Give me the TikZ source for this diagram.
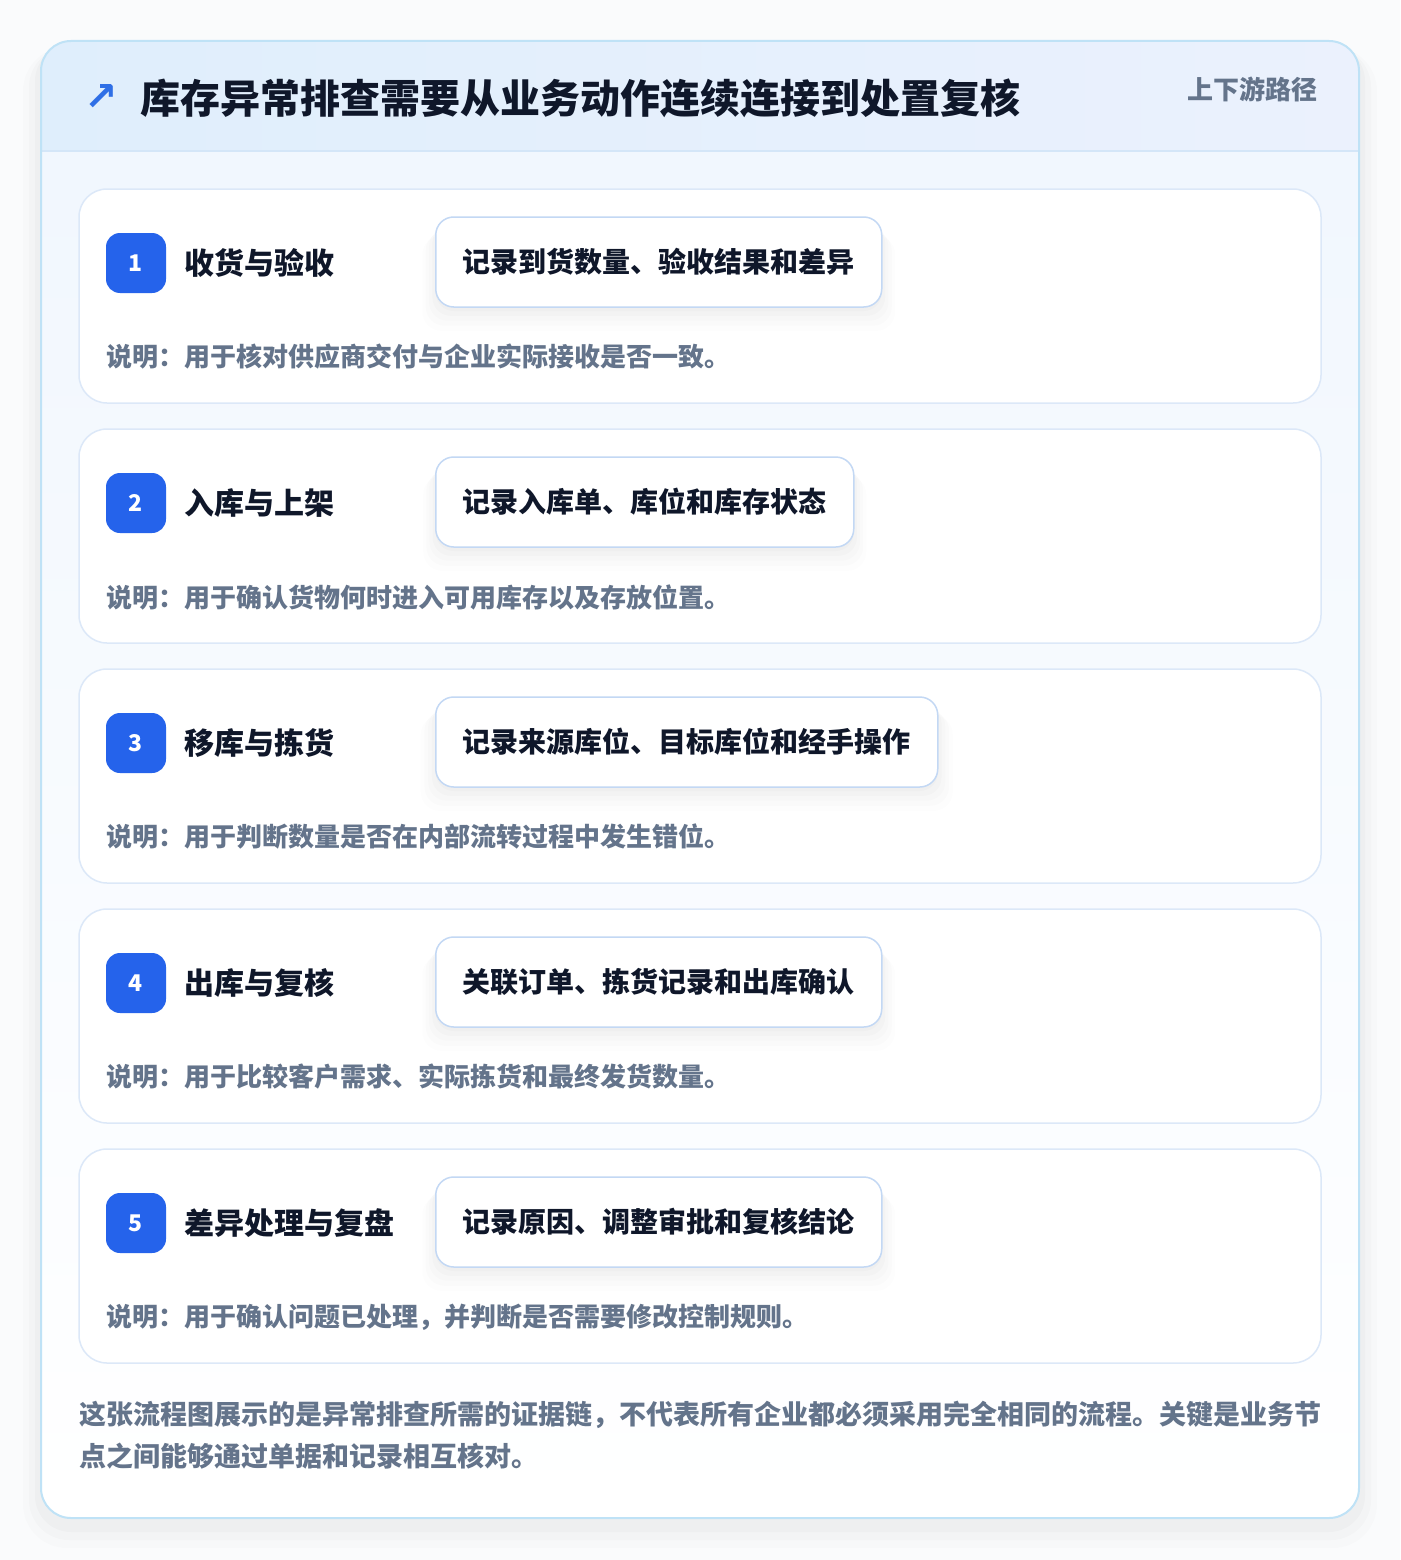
\documentclass[tikz,border=0pt]{standalone}
\usepackage{fontspec}
\setmainfont{Noto Sans CJK SC}
\newfontfamily\symfont{DejaVu Sans}
\usetikzlibrary{shadows}

\definecolor{inkdark}{HTML}{0F172A}
\definecolor{inkgray}{HTML}{64748B}
\definecolor{badgeblue}{HTML}{2563EB}
\definecolor{iconblue}{HTML}{2F6FE6}
\definecolor{outerline}{HTML}{BFE2F6}
\definecolor{cardline}{HTML}{DCE8F8}
\definecolor{recline}{HTML}{C3D8F4}
\definecolor{headleft}{HTML}{DFEEFC}
\definecolor{headright}{HTML}{EBF1FD}
\definecolor{headrule}{HTML}{D4E6F8}
\definecolor{bodytop}{HTML}{F1F7FE}
\definecolor{pagebg}{HTML}{FAFBFC}

\begin{document}
\begin{tikzpicture}[x=1pt,y=-1pt,
    stepcard/.style={draw=cardline,line width=1.5pt,fill=white,rounded corners=28pt},
    badge/.style={fill=badgeblue,rounded corners=14pt,minimum size=60pt,inner sep=0,
      text=white,font=\fontsize{23pt}{23pt}\selectfont\bfseries},
    steptitle/.style={anchor=west,inner sep=0,text=inkdark,font=\fontsize{30pt}{30pt}\selectfont\bfseries},
    recbox/.style={anchor=west,draw=recline,line width=1.5pt,fill=white,rounded corners=18pt,
      minimum height=90pt,inner xsep=27pt,inner ysep=0,text=inkdark,
      font=\fontsize{28pt}{28pt}\selectfont\bfseries,
      drop shadow={opacity=0.008,shadow xshift=0pt,shadow yshift=-20pt,shadow scale=1.06,fill=black},
      drop shadow={opacity=0.01,shadow xshift=0pt,shadow yshift=-16pt,shadow scale=1.045,fill=black},
      drop shadow={opacity=0.012,shadow xshift=0pt,shadow yshift=-12pt,shadow scale=1.03,fill=black},
      drop shadow={opacity=0.014,shadow xshift=0pt,shadow yshift=-8pt,shadow scale=1.015,fill=black},
      drop shadow={opacity=0.016,shadow xshift=0pt,shadow yshift=-4pt,fill=black}},
    note/.style={anchor=west,inner sep=0,text=inkgray,font=\fontsize{26pt}{26pt}\selectfont\bfseries},
    footnote/.style={anchor=west,inner sep=0,text=inkgray,font=\fontsize{27pt}{27pt}\selectfont\bfseries}]
    \useasboundingbox (0,0) rectangle (1400,1560);
    \fill[pagebg] (0,0) rectangle (1400,1560);

    % soft shadow of the outer card
    \fill[black,opacity=0.012,rounded corners=44pt] (23,47) rectangle (1377,1548);
    \fill[black,opacity=0.015,rounded corners=40pt] (29,47) rectangle (1371,1540);
    \fill[black,opacity=0.02,rounded corners=36pt] (35,45) rectangle (1365,1532);

    \begin{scope}
      \clip[rounded corners=30pt] (41,41) rectangle (1359,1518);
      \shade[left color=headleft,right color=headright] (41,41) rectangle (1359,151);
      \shade[top color=bodytop,bottom color=white] (41,151) rectangle (1359,1518);
    \end{scope}
    \draw[headrule,line width=1.5pt] (41,151) -- (1359,151);
    \draw[outerline,line width=2pt,rounded corners=30pt] (41,41) rectangle (1359,1518);

    \node[inner sep=0,text=iconblue,font=\fontsize{40pt}{40pt}\selectfont] (icon) at (101,98) {\symfont\bfseries ↗};
    \node[anchor=west,inner sep=0,text=inkdark,font=\fontsize{40pt}{40pt}\selectfont\bfseries] (title) at (140,98)
      {库存异常排查需要从业务动作连续连接到处置复核};
    \node[anchor=east,inner sep=0,text=inkgray,font=\fontsize{26pt}{26pt}\selectfont\bfseries] (route) at (1318,89)
      {上下游路径};

    % step 1
    \draw[stepcard] (79,189) rectangle (1321,403);
    \node[badge] (b1) at (136,263) {1};
    \node[steptitle] (t1) at (184,263) {收货与验收};
    \node[recbox] (r1) at (435,262) {记录到货数量、验收结果和差异};
    \node[note] (n1) at (106,357) {说明：用于核对供应商交付与企业实际接收是否一致。};

    % step 2
    \draw[stepcard] (79,429) rectangle (1321,643);
    \node[badge] (b2) at (136,503) {2};
    \node[steptitle] (t2) at (184,503) {入库与上架};
    \node[recbox] (r2) at (435,502) {记录入库单、库位和库存状态};
    \node[note] (n2) at (106,597) {说明：用于确认货物何时进入可用库存以及存放位置。};

    % step 3
    \draw[stepcard] (79,669) rectangle (1321,883);
    \node[badge] (b3) at (136,743) {3};
    \node[steptitle] (t3) at (184,743) {移库与拣货};
    \node[recbox] (r3) at (435,742) {记录来源库位、目标库位和经手操作};
    \node[note] (n3) at (106,837) {说明：用于判断数量是否在内部流转过程中发生错位。};

    % step 4
    \draw[stepcard] (79,909) rectangle (1321,1123);
    \node[badge] (b4) at (136,983) {4};
    \node[steptitle] (t4) at (184,983) {出库与复核};
    \node[recbox] (r4) at (435,982) {关联订单、拣货记录和出库确认};
    \node[note] (n4) at (106,1077) {说明：用于比较客户需求、实际拣货和最终发货数量。};

    % step 5
    \draw[stepcard] (79,1149) rectangle (1321,1363);
    \node[badge] (b5) at (136,1223) {5};
    \node[steptitle] (t5) at (184,1223) {差异处理与复盘};
    \node[recbox] (r5) at (435,1222) {记录原因、调整审批和复核结论};
    \node[note] (n5) at (106,1317) {说明：用于确认问题已处理，并判断是否需要修改控制规则。};

    \node[footnote] (foot1) at (79,1415)
      {这张流程图展示的是异常排查所需的证据链，不代表所有企业都必须采用完全相同的流程。关键是业务节};
    \node[footnote] (foot2) at (79,1456) {点之间能够通过单据和记录相互核对。};
  \end{tikzpicture}
\end{document}
